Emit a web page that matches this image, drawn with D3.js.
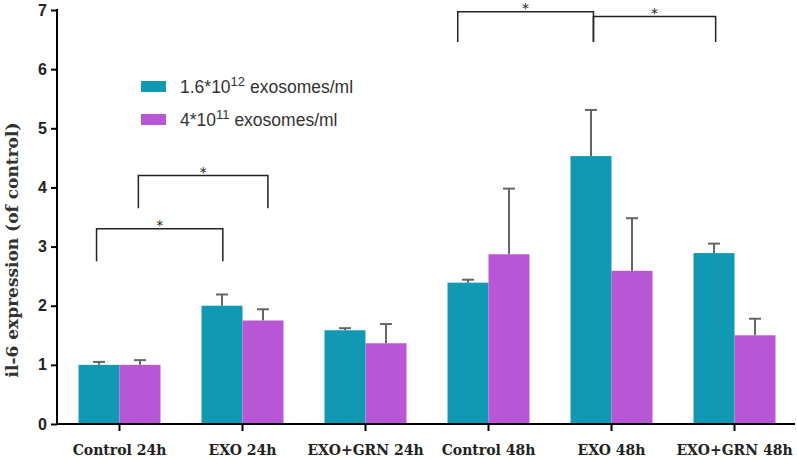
<!DOCTYPE html>
<html>
<head>
<meta charset="utf-8">
<style>
body { margin: 0; background: #fff; }
.tick line { stroke: #000; stroke-width: 2; }
.domain { stroke: #000; stroke-width: 2; }
</style>
</head>
<body>
<svg width="797" height="460"></svg>
<script src="https://d3js.org/d3.v7.min.js"></script>
<script>

var groups = ["Control 24h", "EXO 24h", "EXO+GRN 24h", "Control 48h", "EXO 48h", "EXO+GRN 48h"];
var seriesNames = ["high", "low"];
var highMean = [1.0, 2.0, 1.585, 2.39, 4.53, 2.89];
var highErr  = [0.05, 0.19, 0.035, 0.05, 0.78, 0.16];
var lowMean  = [1.0, 1.75, 1.365, 2.87, 2.59, 1.50];
var lowErr   = [0.08, 0.19, 0.325, 1.11, 0.89, 0.28];
var yTicks = [0, 1, 2, 3, 4, 5, 6, 7];

// significance brackets: group index + fraction inside the group, heights in data units
var brackets = [
  {g1: 0, f1: 0.22, g2: 1, f2: 0.26, top: 3.3, low: 2.75},
  {g1: 0, f1: 0.73, g2: 1, f2: 0.81, top: 4.2, low: 3.65},
  {g1: 3, f1: 0.125, g2: 4, f2: 0.28, top: 6.97, low: 6.46},
  {g1: 4, f1: 0.28, g2: 5, f2: 0.27, top: 6.89, low: 6.46}
];

var colors = {high: "#1199b3", low: "#b857d6"};

var svg = d3.select("svg");

var x0 = d3.scaleBand()
    .domain(groups)
    .range([58, 796])
    .paddingInner(1 / 3)
    .paddingOuter(1 / 6);

var x1 = d3.scaleBand()
    .domain(seriesNames)
    .range([0, x0.bandwidth()]);

var y = d3.scaleLinear()
    .domain([0, 7])
    .range([424, 10]);

var data = groups.map(function(g, i) {
  return [
    {group: g, key: "high", value: highMean[i], err: highErr[i]},
    {group: g, key: "low", value: lowMean[i], err: lowErr[i]}
  ];
});

var bars = svg.append("g")
  .selectAll("g")
  .data(data)
  .enter().append("g")
    .attr("transform", function(d) { return "translate(" + x0(d[0].group) + ",0)"; });

// error bars (upper only)
bars.selectAll("g.err")
  .data(function(d) { return d; })
  .enter().append("g")
    .attr("class", "err")
    .attr("stroke", "#666")
    .attr("stroke-width", 2)
    .each(function(d) {
      var cx = x1(d.key) + x1.bandwidth() / 2;
      var g = d3.select(this);
      g.append("line")
        .attr("x1", cx).attr("x2", cx)
        .attr("y1", y(d.value)).attr("y2", y(d.value + d.err));
      g.append("line")
        .attr("x1", cx - 6).attr("x2", cx + 6)
        .attr("y1", y(d.value + d.err)).attr("y2", y(d.value + d.err));
    });

bars.selectAll("rect")
  .data(function(d) { return d; })
  .enter().append("rect")
    .attr("x", function(d) { return x1(d.key); })
    .attr("y", function(d) { return y(d.value); })
    .attr("width", x1.bandwidth())
    .attr("height", function(d) { return y(0) - y(d.value); })
    .attr("fill", function(d) { return colors[d.key]; });

// x axis
var xAxis = svg.append("g")
    .attr("transform", "translate(0," + y(0) + ")")
    .call(d3.axisBottom(x0).tickSizeOuter(0).tickSize(7).tickPadding(14));
xAxis.select(".domain").attr("d", "M57,0H795");
xAxis.selectAll("text")
    .attr("font-family", "DejaVu Serif")
    .attr("font-weight", "bold")
    .attr("font-size", 14)
    .attr("fill", "#222");

// y axis
var yAxis = svg.append("g")
    .attr("transform", "translate(57,0)")
    .call(d3.axisLeft(y).tickValues(yTicks).tickFormat(d3.format("d")).tickSize(6).tickSizeOuter(0).tickPadding(4));
yAxis.select(".domain").attr("d", "M0,9V425");
yAxis.selectAll("text")
    .attr("font-family", "Liberation Sans")
    .attr("font-weight", "bold")
    .attr("font-size", 16)
    .attr("fill", "#222");

svg.append("text")
    .attr("transform", "translate(18,250) rotate(-90)")
    .attr("text-anchor", "middle")
    .attr("font-family", "DejaVu Serif")
    .attr("font-weight", "bold")
    .attr("font-size", 17)
    .attr("fill", "#333")
    .text("il-6 expression (of control)");

// brackets
var bk = svg.append("g").attr("stroke", "#222").attr("stroke-width", 1.5).attr("fill", "none");
brackets.forEach(function(b) {
  var xa = x0(groups[b.g1]) + b.f1 * x0.bandwidth();
  var xb = x0(groups[b.g2]) + b.f2 * x0.bandwidth();
  bk.append("path")
    .attr("d", "M" + xa + "," + y(b.low) + "V" + y(b.top) + "H" + xb + "V" + y(b.low));
  svg.append("text")
    .attr("x", (xa + xb) / 2)
    .attr("y", y(b.top) + 1)
    .attr("text-anchor", "middle")
    .attr("font-family", "DejaVu Sans")
    .attr("font-size", 14)
    .attr("fill", "#222")
    .text("*");
});

// legend
var legend = svg.append("g").attr("font-family", "Liberation Sans").attr("font-size", 17.5).attr("fill", "#333");
var legendItems = [
  {key: "high", base: "1.6*10", sup: "12"},
  {key: "low", base: "4*10", sup: "11"}
];
legendItems.forEach(function(d, i) {
  var ly = 81 + i * 33;
  legend.append("rect")
    .attr("x", 141).attr("y", ly)
    .attr("width", 25).attr("height", 11)
    .attr("fill", colors[d.key]);
  var t = legend.append("text").attr("x", 180).attr("y", ly + 12);
  t.append("tspan").text(d.base);
  t.append("tspan").attr("dy", -7).attr("font-size", 13).text(d.sup);
  t.append("tspan").attr("dy", 7).text(" exosomes/ml");
});

</script>
</body>
</html>
